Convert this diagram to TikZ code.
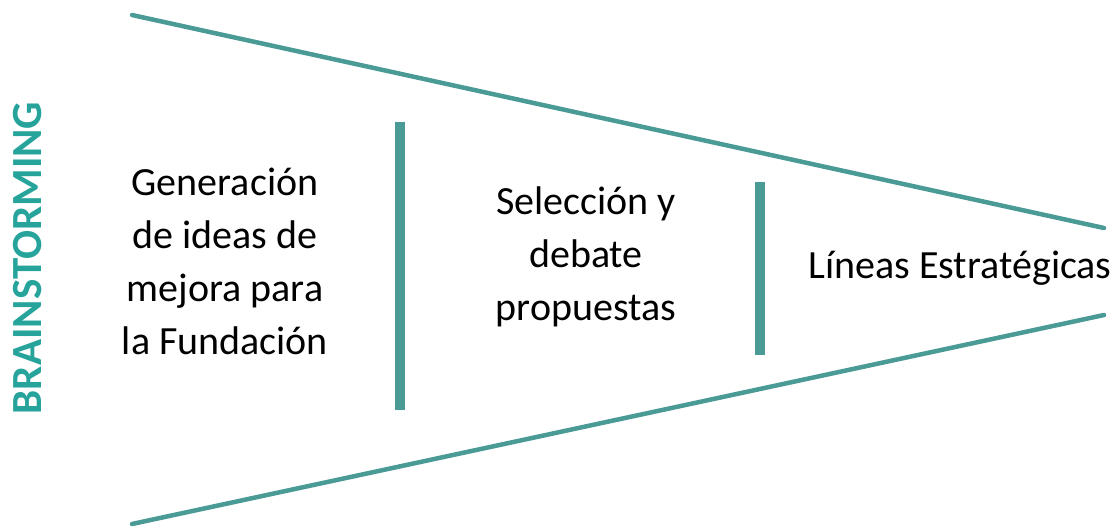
\documentclass[tikz,border=0pt]{standalone}
\usepackage{fontspec}
\setmainfont{Carlito}
\usepackage{tikz}
\usetikzlibrary{positioning, calc}
\definecolor{funnelteal}{HTML}{4A9A96}
\definecolor{titleteal}{HTML}{26A39B}
\tikzstyle{funnel}=[funnelteal, line width=4.5pt, line cap=round]
\tikzstyle{divider}=[funnelteal, line width=10pt]
\tikzstyle{stage}=[align=center, inner sep=0pt, font=\fontsize{40}{53}\selectfont]

\begin{document}
\begin{tikzpicture}[x=1pt, y=-1pt]
        \useasboundingbox (0,0) rectangle (1118,527);

        % embudo
        \coordinate (TL) at (132,15);
        \coordinate (TR) at (1104,228);
        \coordinate (BL) at (132,524);
        \coordinate (BR) at (1104,315);
        \draw[funnel] (TL) -- (TR);
        \draw[funnel] (BL) -- (BR);

        % separadores
        \coordinate (D1t) at (400,122);
        \coordinate (D1b) at (400,410);
        \coordinate (D2t) at (760,182);
        \coordinate (D2b) at (760,355);
        \draw[divider] (D1t) -- (D1b);
        \draw[divider] (D2t) -- (D2b);

        % etapas
        \node[stage] (gen) at (225,261) {Generación\\de ideas de\\mejora para\\la Fundación};
        \node[stage] (sel) at (586,257) {Selección y\\debate\\propuestas};
        \node[stage] (lin) at (960,268) {Líneas Estratégicas};

        % titulo vertical
        \node[rotate=90, inner sep=0pt, titleteal, font=\fontsize{43}{50}\selectfont\bfseries] (title) at (28,258) {BRAINSTORMING};
\end{tikzpicture}
\end{document}
